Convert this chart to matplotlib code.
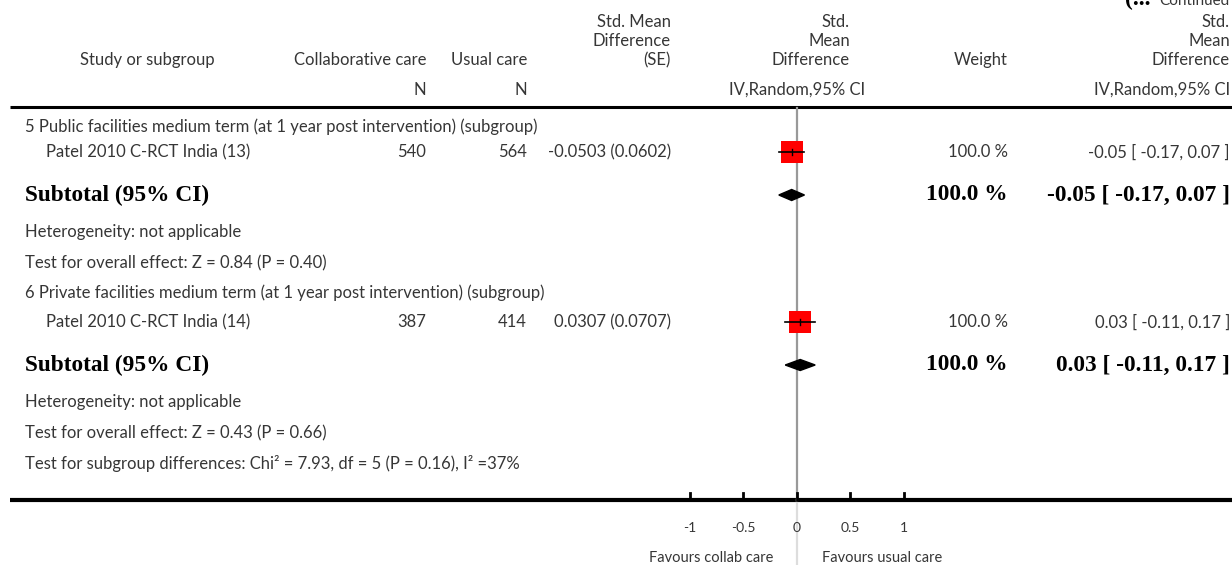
import matplotlib.pyplot as plt
from matplotlib.patches import Polygon

# rows of the forest plot (studies and pooled subtotals)
group_titles = ["5 Public facilities medium term (at 1 year post intervention) (subgroup)",
                "6 Private facilities medium term (at 1 year post intervention) (subgroup)"]
study_names = ["Patel 2010 C-RCT India (13)", "Patel 2010 C-RCT India (14)"]
n_collab = [540, 387]
n_usual = [564, 414]
smd = [-0.0503, 0.0307]
se = [0.0602, 0.0707]
est = [-0.05, 0.03]
ci_lo = [-0.17, -0.11]
ci_hi = [0.07, 0.17]
weights = [100.0, 100.0]
overall_z = ["Z = 0.84 (P = 0.40)", "Z = 0.43 (P = 0.66)"]
subgroup_test = "Test for subgroup differences: Chi² = 7.93, df = 5 (P = 0.16), I² =37%"
axis_ticks = [-1, -0.5, 0, 0.5, 1]
tick_labels = ["-1", "-0.5", "0", "0.5", "1"]

W, H = 1232, 565
FONT = "Lato"
SERIF = "Liberation Serif"
TXT = "#363636"
FS = 12
BFS = 16.8

fig = plt.figure(figsize=(W / 100, H / 100), dpi=100)
ax = fig.add_axes([0, 0, 1, 1])
ax.set_xlim(0, W)
ax.set_ylim(H, 0)
ax.axis("off")

# plot column, x in SMD units
fx0, fx1 = 640, 960
fax = fig.add_axes([fx0 / W, 0, (fx1 - fx0) / W, 1])
fax.set_xlim((fx0 - 797) / 107, (fx1 - 797) / 107)
fax.set_ylim(H, 0)
fax.axis("off")
fax.patch.set_alpha(0)


def t(x, y, s, ha="left", va="center", **kw):
    kw.setdefault("fontsize", FS)
    kw.setdefault("family", FONT)
    kw.setdefault("color", TXT)
    ax.text(x, y, s, ha=ha, va=va, **kw)


# header
t(1150, 5, "(...", ha="right", va="baseline", fontsize=17, family=SERIF,
  weight="bold", color="black")
t(1230, 5, "Continued", ha="right", va="baseline", fontsize=11)
t(80, 60, "Study or subgroup")
t(426, 60, "Collaborative care", ha="right")
t(527, 60, "Usual care", ha="right")
for y, s in zip([22, 41, 60], ["Std. Mean", "Difference", "(SE)"]):
    t(671, y, s, ha="right")
for y, s in zip([22, 41, 60], ["Std.", "Mean", "Difference"]):
    t(850, y, s, ha="right")
    t(1230, y, s, ha="right")
t(1008, 60, "Weight", ha="right")
t(426, 90, "N", ha="right")
t(527, 90, "N", ha="right")
fax.text(0, 90, "IV,Random,95% CI", ha="center", va="center", fontsize=FS,
         family=FONT, color=TXT)
t(1230, 90, "IV,Random,95% CI", ha="right")
ax.plot([10, W], [107, 107], color="black", lw=2.2, solid_capstyle="butt")

# zero line
fax.plot([0, 0], [108, 500], color="#999999", lw=1.6, zorder=1)
fax.plot([0, 0], [500, H], color="#dddddd", lw=1.6, zorder=1)

rows = [(127, 152, 195, 232, 263), (293, 322, 365, 402, 433)]
for i, (yg, ys, ysub, yhet, yz) in enumerate(rows):
    t(25, yg, group_titles[i])
    t(46, ys, study_names[i])
    t(426, ys, str(n_collab[i]), ha="right")
    t(527, ys, str(n_usual[i]), ha="right")
    t(671, ys, f"{smd[i]:.4f} ({se[i]:.4f})", ha="right")
    t(1008, ys, f"{weights[i]:.1f} %", ha="right")
    ci = f"{est[i]:.2f} [ {ci_lo[i]:.2f}, {ci_hi[i]:.2f} ]"
    t(1230, ys, ci, ha="right")
    # study square and CI
    fax.scatter([smd[i]], [ys], marker="s", s=250, color="red", zorder=3,
                linewidths=0)
    fax.plot([ci_lo[i], ci_hi[i]], [ys, ys], color="black", lw=1.2, zorder=4)
    fax.plot([smd[i], smd[i]], [ys - 3, ys + 3], color="black", lw=1, zorder=4)
    # pooled diamond
    fax.add_patch(Polygon([(ci_lo[i], ysub), (est[i], ysub - 5.5),
                           (ci_hi[i], ysub), (est[i], ysub + 5.5)],
                          closed=True, color="black", zorder=3))
    t(25, ysub, "Subtotal (95% CI)", family=SERIF, weight="bold", fontsize=BFS,
      color="black")
    t(1008, ysub, f"{weights[i]:.1f} %", ha="right", family=SERIF, weight="bold",
      fontsize=BFS, color="black")
    t(1230, ysub, ci, ha="right", family=SERIF, weight="bold", fontsize=BFS,
      color="black")
    t(25, yhet, "Heterogeneity: not applicable")
    t(25, yz, "Test for overall effect: " + overall_z[i])

t(25, 464, subgroup_test)

# bottom axis
ax.plot([10, W], [500, 500], color="black", lw=3, solid_capstyle="butt")
for v, lab in zip(axis_ticks, tick_labels):
    fax.plot([v, v], [493, 500], color="black", lw=2)
    fax.text(v, 528, lab, ha="center", va="center", fontsize=10,
             family=FONT, color=TXT)
fax.text(-0.8, 558, "Favours collab care", ha="center", va="center",
         fontsize=10.5, family=FONT, color=TXT)
fax.text(0.8, 558, "Favours usual care", ha="center", va="center",
         fontsize=10.5, family=FONT, color=TXT)

fig.savefig("out.png", dpi=100)
